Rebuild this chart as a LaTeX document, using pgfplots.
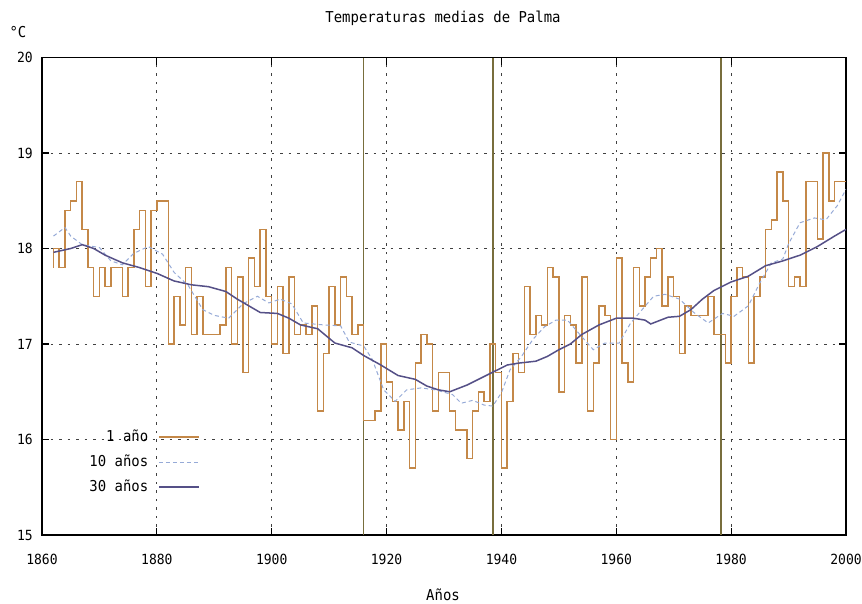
\documentclass[border=0pt]{standalone}
\usepackage{pgfplots}
\pgfplotsset{compat=1.18}
\usepackage{fontspec}
\setmainfont{DejaVu Sans Mono}[FakeStretch=0.93]
\definecolor{oneyr}{RGB}{196,136,72}
\definecolor{tenyr}{RGB}{150,170,215}
\definecolor{thirty}{RGB}{85,80,135}
\definecolor{oliveln}{RGB}{120,110,60}
\begin{document}
\fontsize{15}{18}\selectfont
\begin{tikzpicture}
\path[use as bounding box] (0pt,0pt) rectangle (862pt,603pt);
\begin{axis}[
  at={(42pt,68pt)}, anchor=south west,
  width=804pt, height=477.5pt, scale only axis,
  xmin=1860, xmax=2000, ymin=15, ymax=20,
  xtick={1860,1880,...,2000}, ytick={15,16,...,20},
  grid=major,
  grid style={black!75, line width=0.9pt, dash pattern=on 2.5pt off 6pt},
  axis line style={black, line width=1.6pt},
  tick align=inside, major tick length=7pt,
  tick style={black, line width=1.2pt},
  /pgf/number format/assume math mode=true,
  /pgf/number format/1000 sep={},
  ticklabel style={font=\fontsize{14}{17}\selectfont},
  xticklabel style={yshift=-14pt},
  yticklabel style={xshift=-4pt},
  legend plot pos=right,
  legend cell align=right,
  legend image code/.code={\draw[#1] (0pt,0pt) -- (40pt,0pt);},
  legend style={at={(axis cs:1887.5,16.10)}, anchor=north east,
    draw=none, fill=none, inner sep=0pt, column sep=10pt, row sep=11pt,
    font=\fontsize{15}{18}\selectfont,
    nodes={inner sep=0pt, text height=11pt, text depth=3pt}},
]
\addplot[oliveln, line width=1.5pt, forget plot] coordinates {(1916,15) (1916,20)};
\addplot[oliveln, line width=1.5pt, forget plot] coordinates {(1938.5,15) (1938.5,20)};
\addplot[oliveln, line width=1.5pt, forget plot] coordinates {(1978.2,15) (1978.2,20)};

\addplot[oneyr, line width=1.5pt, const plot mark left] coordinates {
(1862,17.8) (1862,18.0) (1863,17.8) (1864,18.4) (1865,18.5) (1866,18.7) (1867,18.2) (1868,17.8) (1869,17.5) (1870,17.8)
(1871,17.6) (1872,17.8) (1873,17.8) (1874,17.5) (1875,17.8) (1876,18.2) (1877,18.4) (1878,17.6) (1879,18.4) (1880,18.5)
(1881,18.5) (1882,17.0) (1883,17.5) (1884,17.2) (1885,17.8) (1886,17.1) (1887,17.5) (1888,17.1) (1889,17.1) (1890,17.1)
(1891,17.2) (1892,17.8) (1893,17.0) (1894,17.7) (1895,16.7) (1896,17.9) (1897,17.6) (1898,18.2) (1899,17.5) (1900,17.0)
(1901,17.6) (1902,16.9) (1903,17.7) (1904,17.1) (1905,17.2) (1906,17.1) (1907,17.4) (1908,16.3) (1909,16.9) (1910,17.6)
(1911,17.2) (1912,17.7) (1913,17.5) (1914,17.1) (1915,17.2) (1916,16.2) (1917,16.2) (1918,16.3) (1919,17.0) (1920,16.6)
(1921,16.4) (1922,16.1) (1923,16.4) (1924,15.7) (1925,16.8) (1926,17.1) (1927,17.0) (1928,16.3) (1929,16.7) (1930,16.7)
(1931,16.3) (1932,16.1) (1933,16.1) (1934,15.8) (1935,16.3) (1936,16.5) (1937,16.4) (1938,17.0) (1939,16.7) (1940,15.7)
(1941,16.4) (1942,16.9) (1943,16.7) (1944,17.6) (1945,17.1) (1946,17.3) (1947,17.2) (1948,17.8) (1949,17.7) (1950,16.5)
(1951,17.3) (1952,17.2) (1953,16.8) (1954,17.7) (1955,16.3) (1956,16.8) (1957,17.4) (1958,17.3) (1959,16.0) (1960,17.9)
(1961,16.8) (1962,16.6) (1963,17.8) (1964,17.4) (1965,17.7) (1966,17.9) (1967,18.0) (1968,17.4) (1969,17.7) (1970,17.5)
(1971,16.9) (1972,17.4) (1973,17.3) (1974,17.3) (1975,17.3) (1976,17.5) (1977,17.1) (1978,17.1) (1979,16.8) (1980,17.5)
(1981,17.8) (1982,17.7) (1983,16.8) (1984,17.5) (1985,17.7) (1986,18.2) (1987,18.3) (1988,18.8) (1989,18.5) (1990,17.6)
(1991,17.7) (1992,17.6) (1993,18.7) (1994,18.7) (1995,18.1) (1996,19.0) (1997,18.5) (1998,18.7) (1999,18.7) (2000,18.7)
};
\addlegendentry{1 año}

\addplot[tenyr, line width=1pt, dash pattern=on 4pt off 3pt] coordinates {
(1862,18.13) (1864,18.22) (1865,18.13) (1867,18.04) (1870,18.01) (1872,17.87) (1874,17.83) (1876,17.95) (1878.5,18.02)
(1881,17.94) (1883,17.75) (1885.5,17.61) (1888,17.36) (1890,17.30) (1892.5,17.27) (1895,17.42) (1897.5,17.50) (1899.5,17.43)
(1901.5,17.47) (1903.5,17.42) (1905.5,17.22) (1909,17.20) (1912,17.19) (1913.5,17.02) (1916,16.98) (1917.5,16.84)
(1919.5,16.52) (1921.5,16.40) (1923.5,16.52) (1926,16.54) (1928.5,16.52) (1931.5,16.47) (1933,16.38) (1935,16.41)
(1937,16.36) (1938.5,16.35) (1940,16.49) (1941.5,16.73) (1943.5,16.87) (1945.5,17.05) (1947.5,17.18) (1949.5,17.25)
(1951.5,17.25) (1953.5,17.11) (1956,16.94) (1958,17.01) (1960.5,17.01) (1962.5,17.22) (1964.5,17.36) (1966.5,17.50)
(1968.5,17.52) (1971,17.47) (1973.5,17.33) (1976,17.22) (1978.5,17.32) (1980.5,17.29) (1983,17.40) (1985,17.64)
(1987,17.85) (1989,17.89) (1990,18.05) (1992,18.27) (1994.5,18.32) (1996.5,18.30) (1998.5,18.45) (2000,18.62)
};
\addlegendentry{10 años}

\addplot[thirty, line width=1.5pt] coordinates {
(1862,17.96) (1865,18.00) (1867,18.04) (1869,18.00) (1871,17.93) (1874,17.85) (1877,17.80) (1880,17.74) (1883,17.66)
(1886,17.62) (1889,17.60) (1892,17.55) (1894,17.47) (1896,17.40) (1898,17.33) (1901,17.32) (1903,17.27) (1905,17.20)
(1908,17.16) (1911,17.01) (1914,16.96) (1916,16.88) (1919,16.78) (1922,16.67) (1925,16.63) (1927,16.56) (1929,16.52)
(1931,16.50) (1934,16.57) (1937,16.66) (1939,16.72) (1941,16.78) (1943,16.80) (1946,16.82) (1948,16.87) (1950,16.94)
(1952,17.00) (1954,17.10) (1957,17.20) (1960,17.27) (1963,17.27) (1965,17.25) (1966,17.21) (1969,17.28) (1971,17.29)
(1973,17.36) (1975,17.47) (1977,17.56) (1980,17.65) (1983,17.71) (1986,17.82) (1989,17.87) (1992,17.93) (1995,18.02)
(1998,18.13) (2000,18.20)
};
\addlegendentry{30 años}
\end{axis}
\node at (443pt,585pt) {Temperaturas medias de Palma};
\node at (18pt,571pt) {°C};
\node at (443pt,8pt) {Años};
\end{tikzpicture}
\end{document}
